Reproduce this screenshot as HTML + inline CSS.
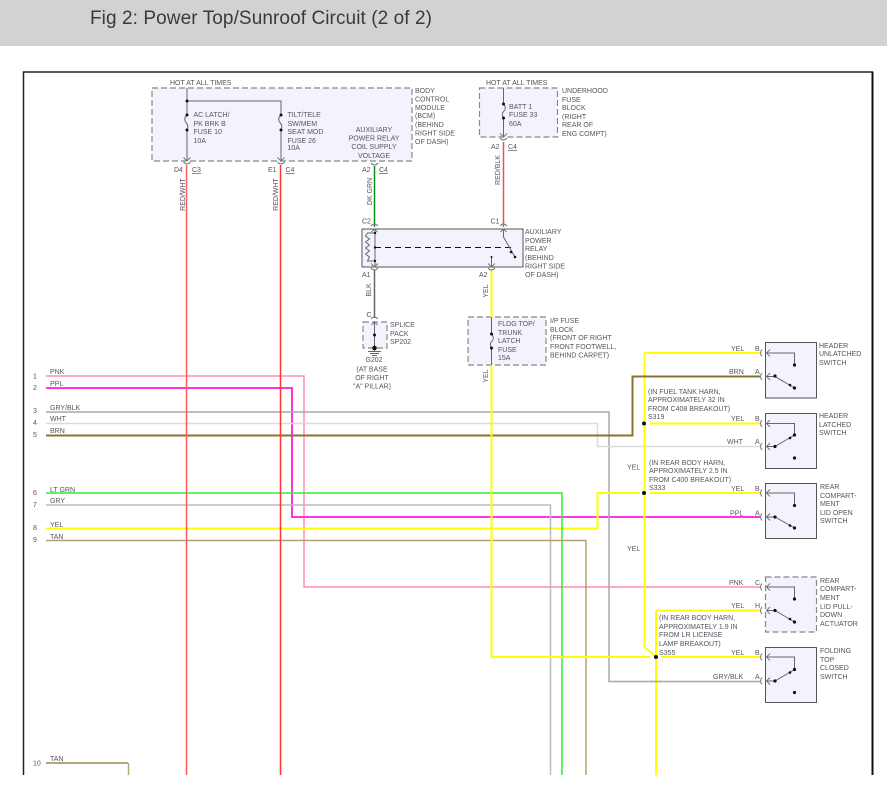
<!DOCTYPE html>
<html><head><meta charset="utf-8"><style>
html,body{margin:0;padding:0;background:#fff;width:887px;height:804px;overflow:hidden}
svg{display:block}
text{font-family:"Liberation Sans",sans-serif;font-size:7px;fill:#55555e}
.t{font-size:19px;fill:#3a3a3a}
.w{fill:none;stroke-linejoin:miter}
.i{fill:none;stroke:#666;stroke-width:1}
.c{fill:none;stroke:#777;stroke-width:1}
</style></head><body>
<svg width="887" height="804" viewBox="0 0 887 804" xmlns="http://www.w3.org/2000/svg">
<defs>
<g id="cl"><path class="c" d="M-1,-3.500 Q-4,0 -1,3.500"/><path class="c" d="M7,-3.500 L3.500,0 L7,3.500"/></g>
<g id="cd"><path class="c" d="M-3.500,-2 Q0,2 3.500,-2"/><path class="c" d="M-3.500,-6.500 L0,-3 L3.500,-6.500"/></g>
<g id="cu"><path class="c" d="M-3.500,-2 Q0,-6 3.500,-2"/><path class="c" d="M-3,4 L0,1 L3,4"/></g>
</defs>
<rect width="887" height="46" fill="#d2d2d2"/>
<text class="t" x="90" y="24" textLength="342">Fig 2: Power Top/Sunroof Circuit (2 of 2)</text>
<path d="M23.500,775V72H872.500V775" fill="none" stroke="#222" stroke-width="1.500"/>
<path d="M872.500,72V775" stroke="#111" stroke-width="2" fill="none"/>

<!-- boxes -->
<g fill="#f3f3fe" stroke="#888" stroke-width="1.200" stroke-dasharray="6 3">
<rect x="152" y="88" width="260" height="73"/>
<rect x="479.500" y="88" width="78" height="49"/>
<rect x="363" y="322" width="24" height="26"/>
<rect x="468" y="317" width="78" height="48"/>
<rect x="765.500" y="577" width="51" height="55"/>
</g>
<g fill="#f3f3fe" stroke="#555" stroke-width="1">
<rect x="362" y="229" width="161" height="38"/>
<rect x="765.500" y="342.500" width="51" height="55.500"/>
<rect x="765.500" y="413.500" width="51" height="55"/>
<rect x="765.500" y="483.500" width="51" height="55"/>
<rect x="765.500" y="647.500" width="51" height="55"/>
</g>

<!-- wires -->
<path class="w" stroke="#ff90a8" stroke-width="1.500" d="M46,376H304V587H760"/>
<path class="w" stroke="#ff33e0" stroke-width="2" d="M46,388H292V517H760"/>
<path class="w" stroke="#a8a8a8" stroke-width="1.500" d="M46,412H609V681.500H760"/>
<path class="w" stroke="#dcdcdc" stroke-width="1.500" d="M46,423.500H597.500V446.500H760"/>
<path class="w" stroke="#ffff00" stroke-width="2" d="M644.500,353H760M644.500,353V647L656,657M650,423.500H760"/>
<path class="w" stroke="#ffff00" stroke-width="2" d="M46,528.500H597.500V493H640M650,493H760"/>
<path class="w" stroke="#8c7232" stroke-width="2" d="M46,435.500H632.500V376.500H760"/>
<path class="w" stroke="#bbbbbb" stroke-width="1.500" d="M46,505H550.500V775"/>
<path class="w" stroke="#33ee33" stroke-width="1.500" d="M46,493H562V775"/>
<path class="w" stroke="#b5a070" stroke-width="1.500" d="M46,540.500H586V775"/>
<path class="w" stroke="#b5a878" stroke-width="2" d="M46,763H128"/>
<path class="w" stroke="#b5a878" stroke-width="1.500" d="M128.500,763V775"/>
<path class="w" stroke="#ffff00" stroke-width="2" d="M491.500,270V318M491.500,365V657H650M661,657H760M656,610.500H760M656,610.500V775"/>
<path class="w" stroke="#a8a8a8" stroke-width="1.500" d="M650,681.500H662"/>
<path class="w" stroke="#ff5a5a" stroke-width="1.500" d="M186.500,165V775"/>
<path class="w" stroke="#ff3535" stroke-width="1.500" d="M280.500,165V775"/>
<path class="w" stroke="#118f11" stroke-width="1.500" d="M374.500,166V227"/>
<path class="w" stroke="#d85a5a" stroke-width="1.500" d="M503.500,142V227"/>
<path class="w" stroke="#666" stroke-width="1.500" d="M374.500,270V318"/>

<!-- BCM internals -->
<path class="i" d="M187,88V115M187,130V160M187,101H281V115M281,130V160"/>
<path class="i" d="M187,115Q183,119 186,122.500T187,130M281,115Q277,119 280,122.500T281,130"/>
<g fill="#111"><circle cx="187" cy="101" r="1.500"/><circle cx="187" cy="115" r="1.500"/><circle cx="187" cy="130" r="1.500"/><circle cx="281" cy="115" r="1.500"/><circle cx="281" cy="130" r="1.500"/></g>
<use href="#cd" x="187" y="164"/><use href="#cd" x="281" y="164"/>
<path class="c" d="M371,163Q374.500,167 378,163"/>
<!-- underhood -->
<path class="i" d="M503.500,88V104M503.500,118V136"/>
<path class="i" d="M503.500,104Q507,108 504,111T503.500,118"/>
<g fill="#111"><circle cx="503.500" cy="104" r="1.500"/><circle cx="503.500" cy="118" r="1.500"/></g>
<use href="#cd" x="503.500" y="140"/>

<!-- relay -->
<use href="#cu" x="374.500" y="228"/><use href="#cu" x="503.500" y="228"/>
<use href="#cd" x="374.500" y="270"/><use href="#cd" x="491.500" y="270"/>
<path class="i" d="M375,230V266"/>
<path class="i" d="M375,233H367.500L365.500,236L369.500,239L365.500,242L369.500,245L365.500,248L369.500,251L365.500,254L369.500,257L367.500,261H375"/>
<path d="M375,247.500H511" stroke="#111" stroke-width="1" stroke-dasharray="6 4" fill="none"/>
<path class="i" d="M503.500,230V237L515,257"/>
<path class="i" d="M491.500,257V266"/>
<g fill="#111"><circle cx="375" cy="233" r="1.200"/><circle cx="375" cy="247.500" r="1.200"/><circle cx="375" cy="261" r="1.200"/><circle cx="511" cy="252" r="1.300"/><circle cx="515" cy="257" r="1.300"/><circle cx="491.500" cy="257" r="1"/></g>

<!-- splice -->
<use href="#cu" x="374.500" y="321"/>
<path class="i" d="M374.500,322V352M368,351.500H381M370,353.500H379M372,355.500H377"/>
<circle cx="374.500" cy="335" r="1.500" fill="#111"/><circle cx="374.500" cy="348" r="2.300" fill="#111"/>

<!-- IP fuse -->
<path class="i" d="M491.500,317V334M491.500,348V365"/>
<path class="i" d="M491.500,334Q495,338 492,341T491.500,348"/>
<g fill="#111"><circle cx="491.500" cy="334" r="1.500"/><circle cx="491.500" cy="348" r="1.500"/></g>

<!-- switches -->
<use href="#cl" x="763" y="353"/><use href="#cl" x="763" y="376.500"/>
<path class="i" d="M767,353H794.500V365M767,376.500H775L794.500,388"/>
<g fill="#111"><circle cx="794.500" cy="365" r="1.600"/><circle cx="775" cy="376" r="1.600"/><circle cx="790" cy="385" r="1.300"/><circle cx="794.500" cy="388" r="1.600"/></g>

<use href="#cl" x="763" y="423.500"/><use href="#cl" x="763" y="446.500"/>
<path class="i" d="M767,423.500H794.500V435M767,446.500H775L794.500,435"/>
<g fill="#111"><circle cx="794.500" cy="435" r="1.600"/><circle cx="775" cy="446.500" r="1.600"/><circle cx="790" cy="438" r="1.300"/><circle cx="794.500" cy="458" r="1.600"/></g>

<use href="#cl" x="763" y="493"/><use href="#cl" x="763" y="517"/>
<path class="i" d="M767,493H794.500V505M767,517H775L794.500,528"/>
<g fill="#111"><circle cx="794.500" cy="505.500" r="1.600"/><circle cx="775" cy="517" r="1.600"/><circle cx="790" cy="525.500" r="1.300"/><circle cx="794.500" cy="528" r="1.600"/></g>

<use href="#cl" x="763" y="587"/><use href="#cl" x="763" y="610.500"/>
<path class="i" d="M767,587H794.500V599M767,610.500H775L794.500,622"/>
<g fill="#111"><circle cx="794.500" cy="599" r="1.600"/><circle cx="775" cy="610.500" r="1.600"/><circle cx="790" cy="619" r="1.300"/><circle cx="794.500" cy="622" r="1.600"/></g>

<use href="#cl" x="763" y="657"/><use href="#cl" x="763" y="681"/>
<path class="i" d="M767,657H794.500V669.500M767,681H775L794.500,669.500"/>
<g fill="#111"><circle cx="794.500" cy="669.500" r="1.600"/><circle cx="775" cy="681" r="1.600"/><circle cx="790" cy="672.500" r="1.300"/><circle cx="794.500" cy="692.500" r="1.600"/></g>

<!-- splice dots -->
<path d="M644.500,415V432M644.500,486V500" stroke="#ffff00" stroke-width="2"/>
<g fill="#111"><circle cx="644" cy="423.500" r="2"/><circle cx="644" cy="493" r="2"/><circle cx="656" cy="657" r="2"/></g>

<!-- text -->
<text x="170" y="85">HOT AT ALL TIMES</text>
<text x="415" y="93">BODY</text><text x="415" y="101.500">CONTROL</text><text x="415" y="110">MODULE</text><text x="415" y="118">(BCM)</text><text x="415" y="127">(BEHIND</text><text x="415" y="135.500">RIGHT SIDE</text><text x="415" y="144">OF DASH)</text>
<text x="193.500" y="117">AC LATCH/</text><text x="193.500" y="126">PK BRK B</text><text x="193.500" y="134">FUSE 10</text><text x="193.500" y="143">10A</text>
<text x="287.500" y="117">TILT/TELE</text><text x="287.500" y="126">SW/MEM</text><text x="287.500" y="134">SEAT MOD</text><text x="287.500" y="143">FUSE 26</text><text x="287.500" y="150">10A</text>
<g text-anchor="middle"><text x="374" y="132">AUXILIARY</text><text x="374" y="140.500">POWER RELAY</text><text x="374" y="149">COIL SUPPLY</text><text x="374" y="158">VOLTAGE</text></g>
<text x="174" y="172">D4</text><text x="192" y="172" text-decoration="underline">C3</text>
<text x="268" y="172">E1</text><text x="285.500" y="172" text-decoration="underline">C4</text>
<text x="362" y="172">A2</text><text x="379" y="172" text-decoration="underline">C4</text>
<text transform="translate(185,194.500) rotate(-90)" text-anchor="middle">RED/WHT</text>
<text transform="translate(278,194.500) rotate(-90)" text-anchor="middle">RED/WHT</text>
<text transform="translate(372,191.500) rotate(-90)" text-anchor="middle">DK GRN</text>
<text transform="translate(500,170) rotate(-90)" text-anchor="middle">RED/BLK</text>
<text transform="translate(371,290) rotate(-90)" text-anchor="middle">BLK</text>
<text transform="translate(488,291) rotate(-90)" text-anchor="middle">YEL</text>
<text transform="translate(488,376) rotate(-90)" text-anchor="middle">YEL</text>
<text x="486" y="85">HOT AT ALL TIMES</text>
<text x="562" y="93">UNDERHOOD</text><text x="562" y="102">FUSE</text><text x="562" y="110">BLOCK</text><text x="562" y="119">(RIGHT</text><text x="562" y="127">REAR OF</text><text x="562" y="136">ENG COMPT)</text>
<text x="509" y="109">BATT 1</text><text x="509" y="117">FUSE 33</text><text x="509" y="126">60A</text>
<text x="491" y="149">A2</text><text x="508" y="149" text-decoration="underline">C4</text>
<text x="362" y="223.500">C2</text><text x="490.500" y="223.500">C1</text>
<text x="525" y="234">AUXILIARY</text><text x="525" y="243">POWER</text><text x="525" y="251">RELAY</text><text x="525" y="260">(BEHIND</text><text x="525" y="268.500">RIGHT SIDE</text><text x="525" y="277">OF DASH)</text>
<text x="362" y="277">A1</text><text x="479" y="277">A2</text>
<text x="366.500" y="317">C</text>
<text x="390" y="327">SPLICE</text><text x="390" y="336">PACK</text><text x="390" y="344">SP202</text>
<g text-anchor="middle"><text x="374" y="362">G202</text><text x="372" y="371.500">(AT BASE</text><text x="372" y="380">OF RIGHT</text><text x="372" y="388.500">"A" PILLAR)</text></g>
<text x="498" y="326">FLDG TOP/</text><text x="498" y="335">TRUNK</text><text x="498" y="343">LATCH</text><text x="498" y="352">FUSE</text><text x="498" y="360">15A</text>
<text x="550" y="323">I/P FUSE</text><text x="550" y="332">BLOCK</text><text x="550" y="340">(FRONT OF RIGHT</text><text x="550" y="349">FRONT FOOTWELL,</text><text x="550" y="357.500">BEHIND CARPET)</text>

<text x="731" y="351">YEL</text><text x="755" y="351">B</text>
<text x="729" y="374">BRN</text><text x="755" y="374">A</text>
<text x="819" y="348">HEADER</text><text x="819" y="356">UNLATCHED</text><text x="819" y="365">SWITCH</text>
<text x="648" y="394">(IN FUEL TANK HARN,</text><text x="648" y="402">APPROXIMATELY 32 IN</text><text x="648" y="411">FROM C408 BREAKOUT)</text><text x="648" y="419">S319</text>
<text x="731" y="421">YEL</text><text x="755" y="421">B</text>
<text x="727" y="444">WHT</text><text x="755" y="444">A</text>
<text x="819" y="418">HEADER</text><text x="819" y="427">LATCHED</text><text x="819" y="435">SWITCH</text>
<text x="627" y="469.500">YEL</text>
<text x="649" y="465">(IN REAR BODY HARN,</text><text x="649" y="473">APPROXIMATELY 2.5 IN</text><text x="649" y="482">FROM C400 BREAKOUT)</text><text x="649" y="490">S333</text>
<text x="731" y="491">YEL</text><text x="755" y="491">B</text>
<text x="730" y="515.500">PPL</text><text x="755" y="515.500">A</text>
<text x="820" y="489">REAR</text><text x="820" y="498">COMPART-</text><text x="820" y="506">MENT</text><text x="820" y="515">LID OPEN</text><text x="820" y="523">SWITCH</text>
<text x="627" y="551">YEL</text>
<text x="729" y="585">PNK</text><text x="755" y="585">C</text>
<text x="731" y="608">YEL</text><text x="755" y="608">H</text>
<text x="820" y="583">REAR</text><text x="820" y="591">COMPART-</text><text x="820" y="600">MENT</text><text x="820" y="609">LID PULL-</text><text x="820" y="617">DOWN</text><text x="820" y="626">ACTUATOR</text>
<text x="659" y="620">(IN REAR BODY HARN,</text><text x="659" y="629">APPROXIMATELY 1.9 IN</text><text x="659" y="637">FROM LR LICENSE</text><text x="659" y="646">LAMP BREAKOUT)</text><text x="659" y="655">S355</text>
<text x="731" y="655">YEL</text><text x="755" y="655">B</text>
<text x="713" y="679">GRY/BLK</text><text x="755" y="679">A</text>
<text x="820" y="653">FOLDING</text><text x="820" y="662">TOP</text><text x="820" y="670">CLOSED</text><text x="820" y="679">SWITCH</text>

<text x="33" y="378.500">1</text><text x="33" y="390">2</text><text x="33" y="413">3</text><text x="33" y="425">4</text><text x="33" y="437">5</text><text x="33" y="495">6</text><text x="33" y="507">7</text><text x="33" y="530">8</text><text x="33" y="542">9</text><text x="33" y="765.500">10</text>
<text x="50" y="374">PNK</text><text x="50" y="386">PPL</text><text x="50" y="410">GRY/BLK</text><text x="50" y="421">WHT</text><text x="50" y="433">BRN</text><text x="50" y="492">LT GRN</text><text x="50" y="503">GRY</text><text x="50" y="527">YEL</text><text x="50" y="539">TAN</text><text x="50" y="761">TAN</text>
</svg>
</body></html>
